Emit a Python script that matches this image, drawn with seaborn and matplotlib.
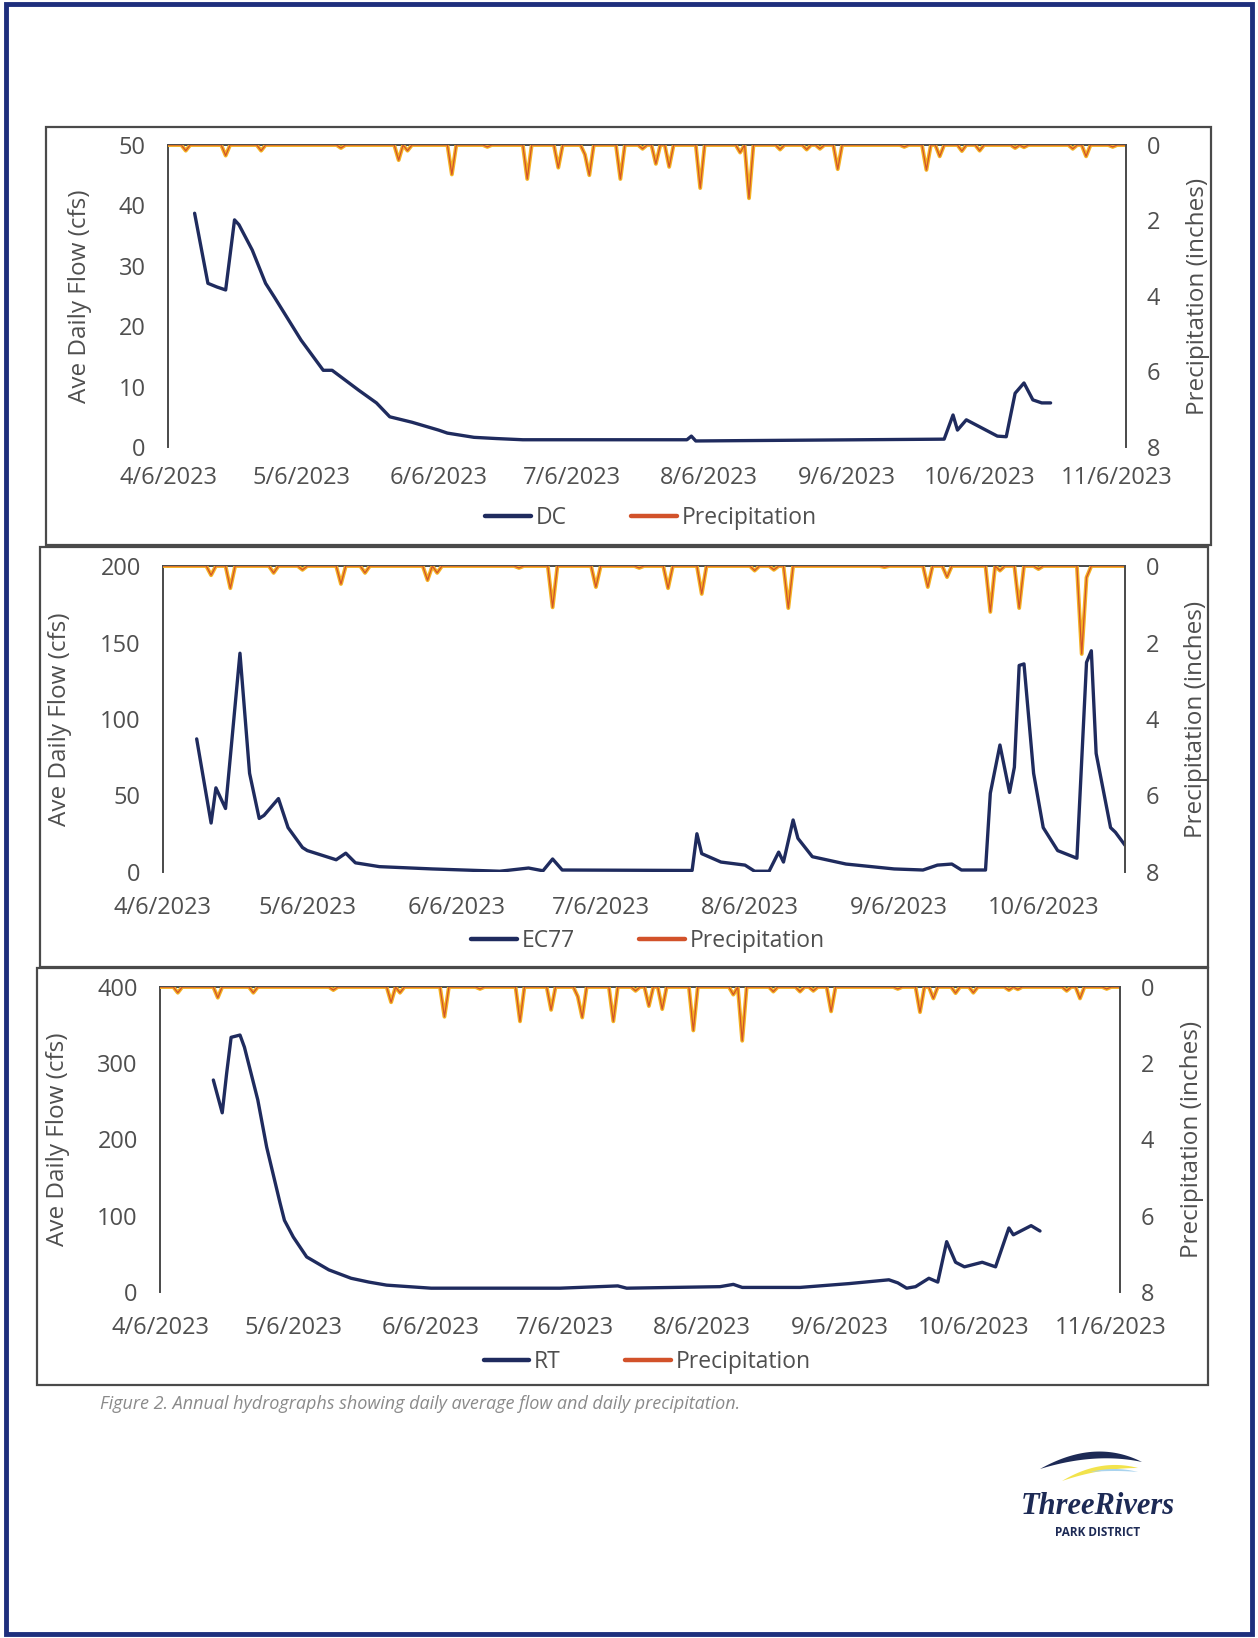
import numpy as np
import pandas as pd
import matplotlib
matplotlib.use("Agg")
import matplotlib.pyplot as plt
import seaborn as sns
from matplotlib.patches import Rectangle, Polygon
from matplotlib.lines import Line2D

# ------------------------------------------------------------------ data
dc_dates = ["2023-04-12", "2023-04-15", "2023-04-17", "2023-04-19", "2023-04-21", "2023-04-22",
            "2023-04-25", "2023-04-28", "2023-04-30", "2023-05-06", "2023-05-11", "2023-05-13",
            "2023-05-19", "2023-05-23", "2023-05-26", "2023-05-31", "2023-06-06", "2023-06-08",
            "2023-06-14", "2023-06-19", "2023-06-25",
            "2023-08-01", "2023-08-02", "2023-08-03", "2023-09-28", "2023-09-30", "2023-10-01",
            "2023-10-03", "2023-10-10", "2023-10-12", "2023-10-14", "2023-10-16", "2023-10-18",
            "2023-10-20", "2023-10-22"]
dc_flow = [38.7, 27.1, 26.5, 26.0, 37.6, 36.8, 32.6, 27.1, 24.8, 17.7, 12.7, 12.7, 9.4, 7.3, 5.0,
           4.1, 2.8, 2.3, 1.6, 1.4, 1.2, 1.2, 1.8, 1.0, 1.3, 5.3, 2.8, 4.5, 1.8, 1.7, 8.9, 10.6,
           7.8, 7.3, 7.3]

ec77_dates = ["2023-04-13", "2023-04-16", "2023-04-17", "2023-04-19", "2023-04-22", "2023-04-24",
              "2023-04-26", "2023-04-27", "2023-04-30", "2023-05-02", "2023-05-05", "2023-05-06",
              "2023-05-11", "2023-05-12", "2023-05-14", "2023-05-16", "2023-05-21", "2023-06-01",
              "2023-06-15", "2023-06-21", "2023-06-24", "2023-06-26", "2023-06-28", "2023-07-25",
              "2023-07-26", "2023-07-27", "2023-07-31", "2023-08-05", "2023-08-07", "2023-08-10",
              "2023-08-12", "2023-08-13", "2023-08-15", "2023-08-16", "2023-08-19", "2023-08-26",
              "2023-09-05", "2023-09-11", "2023-09-14", "2023-09-17", "2023-09-19", "2023-09-24",
              "2023-09-25", "2023-09-27", "2023-09-29", "2023-09-30", "2023-10-01", "2023-10-02",
              "2023-10-04", "2023-10-06", "2023-10-09", "2023-10-13", "2023-10-15", "2023-10-16",
              "2023-10-17", "2023-10-20", "2023-10-21", "2023-10-23"]
ec77_flow = [87, 32, 55, 41.5, 143, 64.5, 35, 37, 48, 29, 16, 14, 9, 8, 12.3, 6, 3.5, 2, 0.5, 2.6,
             0.8, 8.5, 1.3, 1, 25, 12, 6.5, 4.5, 0.5, 0.5, 13, 6.5, 34, 22, 10, 5.2, 2, 1.3, 4.5,
             5.2, 1.3, 1.3, 51.5, 83, 52, 68.5, 135, 136, 64.5, 29, 14, 9, 137, 144.6, 77.5, 29,
             26, 17.5]

rt_dates = ["2023-04-18", "2023-04-20", "2023-04-21", "2023-04-22", "2023-04-24", "2023-04-25",
            "2023-04-28", "2023-04-30", "2023-05-03", "2023-05-04", "2023-05-06", "2023-05-09",
            "2023-05-14", "2023-05-19", "2023-05-23", "2023-05-27", "2023-06-01", "2023-06-06",
            "2023-07-05", "2023-07-18", "2023-07-20",
            "2023-08-10", "2023-08-13", "2023-08-15", "2023-08-28", "2023-09-08", "2023-09-17",
            "2023-09-19", "2023-09-21", "2023-09-23", "2023-09-26", "2023-09-28", "2023-09-30",
            "2023-10-02", "2023-10-04", "2023-10-08", "2023-10-11", "2023-10-14", "2023-10-15",
            "2023-10-19", "2023-10-21"]
rt_flow = [278, 235, 287, 334, 337, 321, 252, 190, 117, 94, 72, 46, 29, 18, 13, 9, 7, 5, 5, 8, 5,
           7, 10, 6, 6, 11, 16, 12, 5, 7, 18, 13, 66, 39, 33, 39, 33, 84, 75, 87, 80]

# daily precipitation (inches); days not listed had no rain
precip_dcrt_dates = ["2023-04-10", "2023-04-19", "2023-04-27", "2023-05-15", "2023-05-28",
                     "2023-05-30", "2023-06-09", "2023-06-17", "2023-06-26", "2023-07-03",
                     "2023-07-09", "2023-07-10", "2023-07-17", "2023-07-22", "2023-07-25",
                     "2023-07-28", "2023-08-04", "2023-08-13", "2023-08-15", "2023-08-22",
                     "2023-08-28", "2023-08-31", "2023-09-04", "2023-09-19", "2023-09-24",
                     "2023-09-27", "2023-10-02", "2023-10-06", "2023-10-14", "2023-10-16",
                     "2023-10-27", "2023-10-30", "2023-11-05"]
precip_dcrt = [0.15, 0.28, 0.15, 0.08, 0.4, 0.15, 0.78, 0.05, 0.9, 0.6, 0.25, 0.8, 0.9, 0.1, 0.5,
               0.58, 1.14, 0.2, 1.41, 0.12, 0.12, 0.1, 0.64, 0.05, 0.66, 0.3, 0.16, 0.15, 0.08,
               0.06, 0.1, 0.3, 0.05]

precip_ec77_dates = ["2023-04-16", "2023-04-20", "2023-04-29", "2023-05-05", "2023-05-13",
                     "2023-05-18", "2023-05-31", "2023-06-02", "2023-06-19", "2023-06-26",
                     "2023-07-05", "2023-07-14", "2023-07-20", "2023-07-27", "2023-08-07",
                     "2023-08-11", "2023-08-14", "2023-09-03", "2023-09-12", "2023-09-16",
                     "2023-09-25", "2023-09-27", "2023-10-01", "2023-10-05", "2023-10-14",
                     "2023-10-15"]
precip_ec77 = [0.24, 0.58, 0.18, 0.1, 0.47, 0.18, 0.37, 0.18, 0.05, 1.08, 0.55, 0.05, 0.58, 0.73,
               0.12, 0.1, 1.1, 0.03, 0.55, 0.29, 1.2, 0.12, 1.1, 0.08, 2.3, 0.3]

tick_dates_long = ["2023-04-06", "2023-05-06", "2023-06-06", "2023-07-06", "2023-08-06",
                   "2023-09-06", "2023-10-06", "2023-11-06"]
tick_labels_long = ["4/6/2023", "5/6/2023", "6/6/2023", "7/6/2023", "8/6/2023", "9/6/2023",
                    "10/6/2023", "11/6/2023"]
tick_dates_short = tick_dates_long[:7]
tick_labels_short = tick_labels_long[:7]

flow_ticks_dc = [0, 10, 20, 30, 40, 50]
flow_ticks_ec77 = [0, 50, 100, 150, 200]
flow_ticks_rt = [0, 100, 200, 300, 400]
precip_ticks = [0, 2, 4, 6, 8]

caption = "Figure 2. Annual hydrographs showing daily average flow and daily precipitation."

# ------------------------------------------------------------------ style
sns.set_theme(style="white")
plt.rcParams["font.family"] = ["Open Sans", "DejaVu Sans"]

W, H = 1258, 1638
NAVY = "#1f2b5e"
YEL = "#f4b223"
RED = "#d2522a"
SPINE = "#4a4a4a"
TXT = "#4f4f4f"
FS_TICK = 17
FS_LAB = 17.5
FS_LEG = 16.5

fig = plt.figure(figsize=(W / 100, H / 100), dpi=100)
fig.patch.set_facecolor("white")


def fx(x):
    return x / W


def fy(y):
    return 1 - y / H


def frame(x0, y0, x1, y1, color, lw):
    fig.patches.append(Rectangle((fx(x0), fy(y1)), fx(x1) - fx(x0), fy(y0) - fy(y1),
                                 transform=fig.transFigure, fill=False, ec=color, lw=lw))


def daily(dates, vals, start, end):
    idx = pd.date_range(start, end, freq="D")
    s = pd.Series(vals, index=pd.to_datetime(dates)).reindex(idx, fill_value=0.0)
    return pd.DataFrame({"date": idx, "precip": s.values})


def panel(px, flow_dates, flow_vals, name, p_dates, p_vals, yticks, xlim, tdates, tlabels,
          ylab_x, rlab_x, leg_xy, xpad):
    x0, y0, x1, y1 = px
    ax = fig.add_axes([fx(x0), fy(y1), fx(x1) - fx(x0), fy(y0) - fy(y1)])
    fdf = pd.DataFrame({"date": pd.to_datetime(flow_dates), "flow": flow_vals})
    sns.lineplot(data=fdf, x="date", y="flow", ax=ax, color=NAVY, lw=2.4, legend=False)
    ax.set_ylim(yticks[0], yticks[-1])
    ax.set_yticks(yticks)
    ax.set_xlim(pd.Timestamp(xlim[0]), pd.Timestamp(xlim[1]))
    ax.set_xticks(pd.to_datetime(tdates))
    ax.set_xticklabels(tlabels)
    ax.tick_params(axis="y", length=0, pad=16, labelsize=FS_TICK, labelcolor=TXT)
    ax.tick_params(axis="x", length=0, pad=xpad, labelsize=FS_TICK, labelcolor=TXT)
    ax.set_xlabel("")
    ax.set_ylabel("Ave Daily Flow (cfs)", fontsize=FS_LAB, color=TXT)
    ax.yaxis.set_label_coords((ylab_x - x0) / (x1 - x0), 0.5)

    ax2 = ax.twinx()
    pdf = daily(p_dates, p_vals, xlim[0], xlim[1])
    sns.lineplot(data=pdf, x="date", y="precip", ax=ax2, color=YEL, lw=2.8, legend=False)
    sns.lineplot(data=pdf, x="date", y="precip", ax=ax2, color=RED, lw=0.9, legend=False)
    ax2.set_ylim(8, 0)
    ax2.set_yticks(precip_ticks)
    ax2.tick_params(axis="y", length=0, pad=15, labelsize=FS_TICK, labelcolor=TXT)
    ax2.set_ylabel("Precipitation (inches)", fontsize=FS_LAB, color=TXT)
    ax2.yaxis.set_label_coords((rlab_x - x0) / (x1 - x0), 0.5)
    ax2.set_xlim(pd.Timestamp(xlim[0]), pd.Timestamp(xlim[1]))
    ax2.set_xlabel("")

    for a in (ax, ax2):
        for s in a.spines.values():
            s.set_visible(False)
    ax.spines["left"].set_visible(True)
    ax.spines["top"].set_visible(True)
    ax2.spines["right"].set_visible(True)
    for s in (ax.spines["left"], ax.spines["top"], ax2.spines["right"]):
        s.set_color(SPINE)
        s.set_linewidth(1.4)

    handles = [Line2D([], [], color=NAVY, lw=3.2), Line2D([], [], color=RED, lw=3.2)]
    ax2.legend(handles, [name, "Precipitation"], loc="center",
               bbox_to_anchor=(fx(leg_xy[0]), fy(leg_xy[1])), bbox_transform=fig.transFigure,
               ncol=2, frameon=False, fontsize=FS_LEG, handlelength=2.0, handletextpad=0.2,
               columnspacing=2.8, labelcolor=TXT)
    return ax, ax2


# page border and panel boxes
frame(6, 4, 1252, 1634, "#1e2f7d", 3.5)
frame(46, 127, 1211, 545, SPINE, 1.6)
frame(40, 547, 1208, 967, SPINE, 1.6)
frame(37, 968, 1208, 1385, SPINE, 1.6)

panel((168, 145, 1126, 447), dc_dates, dc_flow, "DC", precip_dcrt_dates, precip_dcrt,
      flow_ticks_dc, ("2023-04-06", "2023-11-08"), tick_dates_long, tick_labels_long,
      92, 1186, (651, 518), 14)
panel((163, 566, 1125, 872), ec77_dates, ec77_flow, "EC77", precip_ec77_dates, precip_ec77,
      flow_ticks_ec77, ("2023-04-06", "2023-10-23"), tick_dates_short, tick_labels_short,
      72, 1184, (648, 941), 17)
panel((160, 987, 1120, 1292), rt_dates, rt_flow, "RT", precip_dcrt_dates, precip_dcrt,
      flow_ticks_rt, ("2023-04-06", "2023-11-08"), tick_dates_long, tick_labels_long,
      70, 1180, (647, 1362), 17)

# caption
fig.text(fx(100), fy(1404), caption, fontsize=13, style="italic", color="#8a8a8a",
         ha="left", va="center")

# logo
lax = fig.add_axes([fx(1000), fy(1570), fx(1200) - fx(1000), fy(1430) - fy(1570)])
lax.set_xlim(1000, 1200)
lax.set_ylim(1570, 1430)
lax.axis("off")
t = np.linspace(0, 1, 40)


def bez(p0, p1, p2):
    return [((1 - u) ** 2 * p0[0] + 2 * (1 - u) * u * p1[0] + u ** 2 * p2[0],
             (1 - u) ** 2 * p0[1] + 2 * (1 - u) * u * p1[1] + u ** 2 * p2[1]) for u in t]


lax.add_patch(Polygon(bez((1040, 1469), (1095, 1438), (1142, 1462)) +
                      bez((1142, 1462), (1095, 1452), (1040, 1469)), closed=True,
                      fc="#1d2a55", ec="none"))
lax.add_patch(Polygon(bez((1062, 1481), (1100, 1458), (1138, 1468)) +
                      bez((1138, 1468), (1100, 1468), (1062, 1481)), closed=True,
                      fc="#f2e34c", ec="none"))
lax.add_patch(Polygon(bez((1090, 1472), (1115, 1466), (1138, 1472)) +
                      bez((1138, 1472), (1115, 1470), (1090, 1472)), closed=True,
                      fc="#a9d3ee", ec="none"))
fig.text(fx(1098), fy(1507), "ThreeRivers", fontsize=22, style="italic", weight="bold",
         family=["Liberation Serif", "DejaVu Serif"], color="#1d2a55", ha="center", va="center")
fig.text(fx(1098), fy(1533), "PARK DISTRICT", fontsize=8.5, weight="bold",
         color="#1d2a55", ha="center", va="center")

fig.savefig("out.png", dpi=100)
